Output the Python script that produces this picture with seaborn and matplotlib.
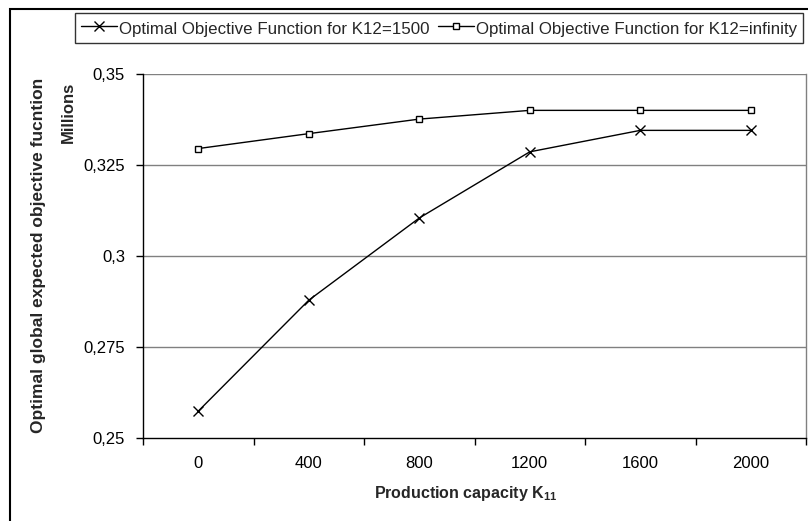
import matplotlib
matplotlib.use("Agg")
import matplotlib.pyplot as plt
from matplotlib.patches import Rectangle
import numpy as np
import seaborn as sns

# values
k11 = ["0", "400", "800", "1200", "1600", "2000"]
obj_1500 = [0.2573, 0.2878, 0.3104, 0.3286, 0.3345, 0.3345]
obj_inf = [0.3295, 0.3336, 0.3376, 0.3400, 0.3400, 0.3400]
series_names = ["Optimal Objective Function for K12=1500",
                "Optimal Objective Function for K12=infinity"]
y_ticks = [0.25, 0.275, 0.3, 0.325, 0.35]
y_tick_labels = ["0,25", "0,275", "0,3", "0,325", "0,35"]


def generate_graph():
    sns.set_theme(style="white")
    plt.rcParams['font.family'] = ['Liberation Sans', 'DejaVu Sans']

    fig = plt.figure(figsize=(8.08, 5.21), dpi=100)
    ax = fig.add_axes([143 / 808, 1 - 437.7 / 521, (806 - 143) / 808, (437.7 - 74) / 521])

    # one call per series (x and square markers can't be mixed in one style map)
    for values, marker, ms in [(obj_1500, "x", 6.5), (obj_inf, "s", 5)]:
        sns.lineplot(x=k11, y=values, marker=marker, markersize=ms,
                     color="black", linewidth=1.0,
                     markeredgecolor="black", markerfacecolor="white",
                     markeredgewidth=1.0, ax=ax)

    # axes
    ax.set_xlim(-0.5, 5.5)
    ax.set_ylim(0.25, 0.35)
    ax.set_yticks(y_ticks)
    ax.set_yticklabels(y_tick_labels)
    ax.set_xticks(np.arange(-0.5, 6, 1))
    ax.set_xticklabels([])
    ax.set_xticks(range(len(k11)), minor=True)
    ax.set_xticklabels(k11, minor=True)
    ax.tick_params(axis="x", which="major", direction="out", length=5, width=1,
                   color="black", bottom=True)
    ax.tick_params(axis="x", which="minor", length=0, pad=13, labelsize=12,
                   labelcolor="black")
    ax.tick_params(axis="y", direction="out", length=5, width=1, color="black",
                   left=True, pad=8, labelsize=12, labelcolor="black")

    for y in y_ticks[1:]:
        ax.axhline(y, color="#808080", linewidth=1, zorder=0)

    ax.spines["top"].set_visible(False)
    ax.spines["right"].set_color("#808080")
    ax.spines["left"].set_color("black")
    ax.spines["bottom"].set_color("black")
    for s in ["left", "bottom", "right"]:
        ax.spines[s].set_linewidth(1)

    ax.set_xlabel("Production capacity K$_{\\mathregular{11}}$", fontsize=11.5,
                  fontweight="bold")
    ax.xaxis.set_label_coords((466 - 143) / (806 - 143), -(484 - 437.7) / (437.7 - 74))
    ax.set_ylabel("Optimal global expected objective fucntion", fontsize=12.5,
                  fontweight="bold")
    ax.yaxis.set_label_coords((46 - 143) / (806 - 143), 0.5)
    fig.text(68.5 / 808, 1 - 112 / 521, "Millions", rotation=90, fontsize=12,
             fontweight="bold", ha="center", va="center")

    # legend
    leg = ax.legend(ax.lines[:2], series_names, loc="upper left",
                    bbox_to_anchor=(75 / 808, 1 - 13 / 521),
                    bbox_transform=fig.transFigure, ncol=2, frameon=True,
                    fancybox=False, edgecolor="black", fontsize=12.2,
                    borderaxespad=0, handlelength=2.1, handletextpad=0.15,
                    handleheight=1.3, columnspacing=0.5, borderpad=0.35)
    leg.get_frame().set_linewidth(1)

    # outer chart border
    fig.patches.append(Rectangle((10 / 808, -0.1), 1.1, 1 - 9 / 521 + 0.1,
                                 transform=fig.transFigure, fill=False,
                                 edgecolor="black", linewidth=1.5))

    plt.savefig("out.png", dpi=100)


if __name__ == "__main__":
    generate_graph()
